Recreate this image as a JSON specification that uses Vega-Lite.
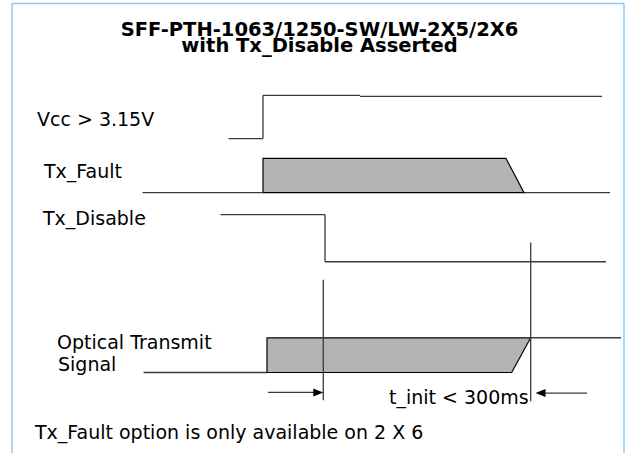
{
  "$schema": "https://vega.github.io/schema/vega-lite/v6.json",
  "width": 629,
  "height": 454,
  "autosize": {"type": "fit", "contains": "padding"},
  "padding": 0,
  "background": "white",
  "config": {"view": {"stroke": null}},
  "datasets": {
    "frame": [
      {"x": 12, "y": 3.5, "x2": 12, "y2": 456},
      {"x": 12, "y": 3.5, "x2": 624, "y2": 3.5},
      {"x": 624, "y": 3.5, "x2": 624, "y2": 456}
    ],
    "wires": [
      {"signal": "Vcc", "x": 228.6, "y": 139.5, "x2": 263, "y2": 139.5},
      {"signal": "Vcc", "x": 263, "y": 139.5, "x2": 263, "y2": 96},
      {"signal": "Vcc", "x": 263, "y": 96, "x2": 360, "y2": 96},
      {"signal": "Vcc", "x": 360, "y": 97, "x2": 602, "y2": 97},
      {"signal": "Tx_Fault", "x": 142.5, "y": 194, "x2": 263, "y2": 194},
      {"signal": "Tx_Fault", "x": 524, "y": 194, "x2": 610, "y2": 194},
      {"signal": "Tx_Disable", "x": 220.5, "y": 216, "x2": 325, "y2": 216},
      {"signal": "Tx_Disable", "x": 325, "y": 216, "x2": 325, "y2": 263.5},
      {"signal": "Tx_Disable", "x": 325, "y": 263.5, "x2": 606, "y2": 263.5},
      {"signal": "Optical", "x": 143.6, "y": 375, "x2": 267, "y2": 375},
      {"signal": "Optical", "x": 267, "y": 340, "x2": 621, "y2": 340},
      {"signal": "marker", "x": 323.3, "y": 281.7, "x2": 323.3, "y2": 403},
      {"signal": "marker", "x": 530.7, "y": 244, "x2": 530.7, "y2": 404},
      {"signal": "arrow", "x": 268, "y": 395, "x2": 320, "y2": 395},
      {"signal": "arrow", "x": 539, "y": 395.7, "x2": 587, "y2": 395.7}
    ],
    "shapes": [
      {"shape": "Tx_Fault", "y": 159.5, "xr": 506, "xl": 263},
      {"shape": "Tx_Fault", "y": 194, "xr": 524, "xl": 263},
      {"shape": "Optical", "y": 340, "xr": 530.7, "xl": 267},
      {"shape": "Optical", "y": 375, "xr": 511.7, "xl": 267}
    ],
    "heads": [
      {"dir": "right", "x": 323.3, "y": 395},
      {"dir": "left", "x": 535.5, "y": 395.7}
    ],
    "title": [
      {"text": ["SFF-PTH-1063/1250-SW/LW-2X5/2X6", "with Tx_Disable Asserted"], "x": 319.5, "y": 36.5}
    ],
    "labels": [
      {"text": "Vcc > 3.15V", "x": 37, "y": 127},
      {"text": "Tx_Fault", "x": 44, "y": 179},
      {"text": "Tx_Disable", "x": 43, "y": 226},
      {"text": "Optical Transmit", "x": 57, "y": 351},
      {"text": "Signal", "x": 58, "y": 373},
      {"text": "t_init < 300ms", "x": 389, "y": 407},
      {"text": "Tx_Fault option is only available on 2 X 6", "x": 35, "y": 442}
    ]
  },
  "layer": [
    {
      "data": {"name": "shapes"},
      "mark": {"type": "area", "orient": "horizontal", "fill": "#b3b3b3", "fillOpacity": 1, "stroke": "#000000", "strokeWidth": 1.2},
      "encoding": {
        "y": {"field": "y", "type": "quantitative", "scale": {"domain": [0, 454], "reverse": true, "nice": false, "zero": false}, "axis": null},
        "x": {"field": "xr", "type": "quantitative", "stack": null, "scale": {"domain": [0, 629], "nice": false, "zero": false}, "axis": null},
        "x2": {"field": "xl"},
        "detail": {"field": "shape", "type": "nominal"}
      }
    },
    {
      "data": {"name": "wires"},
      "mark": {"type": "rule", "color": "#3a3a3a", "strokeWidth": 1.3},
      "encoding": {
        "x": {"field": "x", "type": "quantitative", "scale": {"domain": [0, 629], "nice": false, "zero": false}, "axis": null},
        "y": {"field": "y", "type": "quantitative", "scale": {"domain": [0, 454], "reverse": true, "nice": false, "zero": false}, "axis": null},
        "x2": {"field": "x2"},
        "y2": {"field": "y2"}
      }
    },
    {
      "data": {"name": "frame"},
      "mark": {"type": "rule", "color": "#8fcaf3", "strokeWidth": 1.5},
      "encoding": {
        "x": {"field": "x", "type": "quantitative", "scale": {"domain": [0, 629], "nice": false, "zero": false}, "axis": null},
        "y": {"field": "y", "type": "quantitative", "scale": {"domain": [0, 454], "reverse": true, "nice": false, "zero": false}, "axis": null},
        "x2": {"field": "x2"},
        "y2": {"field": "y2"}
      }
    },
    {
      "data": {"name": "heads"},
      "mark": {"type": "point", "filled": true, "opacity": 1, "color": "#000000", "size": 25},
      "encoding": {
        "x": {"field": "x", "type": "quantitative", "scale": {"domain": [0, 629], "nice": false, "zero": false}, "axis": null},
        "y": {"field": "y", "type": "quantitative", "scale": {"domain": [0, 454], "reverse": true, "nice": false, "zero": false}, "axis": null},
        "shape": {"field": "dir", "type": "nominal", "legend": null, "scale": {"domain": ["right", "left"], "range": ["M0,0L-4,-1.6L-4,1.6Z", "M0,0L4,-1.6L4,1.6Z"]}}
      }
    },
    {
      "data": {"name": "title"},
      "mark": {"type": "text", "align": "center", "baseline": "alphabetic", "font": "DejaVu Sans", "fontWeight": "bold", "fontSize": 19.5, "lineHeight": 16, "color": "#000000"},
      "encoding": {
        "x": {"field": "x", "type": "quantitative", "scale": {"domain": [0, 629], "nice": false, "zero": false}, "axis": null},
        "y": {"field": "y", "type": "quantitative", "scale": {"domain": [0, 454], "reverse": true, "nice": false, "zero": false}, "axis": null},
        "text": {"field": "text"}
      }
    },
    {
      "data": {"name": "labels"},
      "mark": {"type": "text", "align": "left", "baseline": "alphabetic", "font": "DejaVu Sans", "fontSize": 19, "color": "#000000"},
      "encoding": {
        "x": {"field": "x", "type": "quantitative", "scale": {"domain": [0, 629], "nice": false, "zero": false}, "axis": null},
        "y": {"field": "y", "type": "quantitative", "scale": {"domain": [0, 454], "reverse": true, "nice": false, "zero": false}, "axis": null},
        "text": {"field": "text"}
      }
    }
  ]
}
